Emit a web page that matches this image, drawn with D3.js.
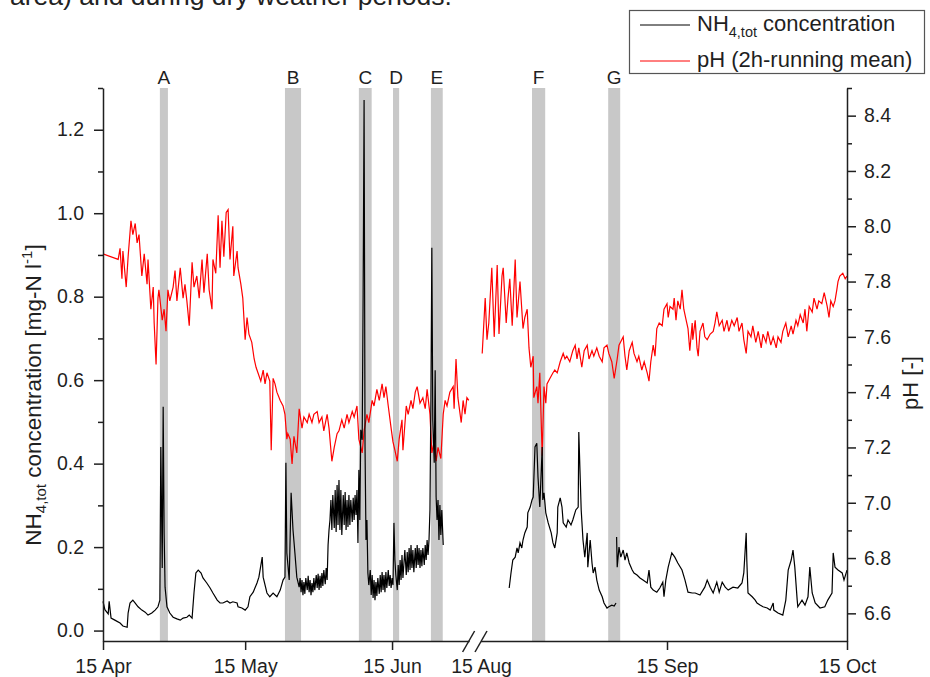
<!DOCTYPE html>
<html><head><meta charset="utf-8">
<script src="https://cdn.jsdelivr.net/npm/d3@7"></script>
<style>
body{margin:0;background:#fff;}
svg{display:block;font-family:"Liberation Sans",Arial,sans-serif;}
</style></head><body>
<svg id="c" width="930" height="677"></svg>
<script>
// ---- data (day = days after 15 April) ----
const xTickDays = [0, 30, 61, 122, 153, 183];
const xTickLabels = ["15 Apr", "15 May", "15 Jun", "15 Aug", "15 Sep", "15 Oct"];
const nhTicks = [0, 0.2, 0.4, 0.6, 0.8, 1.0, 1.2];
const nhMinor = [0.1, 0.3, 0.5, 0.7, 0.9, 1.1, 1.3];
const phTicks = [6.6, 6.8, 7.0, 7.2, 7.4, 7.6, 7.8, 8.0, 8.2, 8.4];
const phMinor = [6.7, 6.9, 7.1, 7.3, 7.5, 7.7, 7.9, 8.1, 8.3, 8.5];
const bandLabels = ["A", "B", "C", "D", "E", "F", "G"];
const bandStart = [12.0, 38.4, 54.0, 61.2, 69.2, 130.5, 143.2];
const bandEnd = [13.7, 41.8, 56.7, 62.5, 71.7, 132.7, 145.2];

const phSpring = [[0,7.90],[3.2,7.88],[3.6,7.92],[4.0,7.81],[4.2,7.91],[4.9,7.78],[5.3,7.89],[5.9,8.02],[6.3,7.97],[6.8,8.01],[7.2,7.94],[7.6,7.97],[8.2,7.82],[8.7,7.90],[9.3,7.79],[9.5,7.88],[10.1,7.70],[10.6,7.78],[10.8,7.65],[11.2,7.50],[11.6,7.74],[11.8,7.77],[12.5,7.66],[12.9,7.70],[13.3,7.62],[13.7,7.77],[14.1,7.73],[14.8,7.78],[15.2,7.84],[15.6,7.73],[16.3,7.85],[16.9,7.74],[17.3,7.79],[17.7,7.73],[18.2,7.64],[18.8,7.87],[19.2,7.78],[19.8,7.82],[20.3,7.74],[20.9,7.88],[21.3,7.76],[22.0,7.90],[22.4,7.77],[23.0,7.70],[23.2,7.88],[23.8,7.83],[24.3,8.04],[24.7,7.85],[25.1,8.02],[25.5,7.89],[26.0,8.05],[26.4,8.06],[26.8,7.88],[27.4,8.00],[27.6,7.82],[28.3,7.91],[28.5,7.85],[29.1,7.79],[29.5,7.74],[30.0,7.59],[30.4,7.67],[30.8,7.61],[31.4,7.58],[31.9,7.52],[32.3,7.49],[32.7,7.47],[33.3,7.44],[33.8,7.48],[34.2,7.43],[34.6,7.47],[35.2,7.44],[35.5,7.19],[35.9,7.45],[36.3,7.43],[36.7,7.40],[37.4,7.37],[38.0,7.35],[38.4,7.32],[38.8,7.23],[39.0,7.25],[39.5,7.23],[39.9,7.14],[40.3,7.24],[40.9,7.18],[41.4,7.34],[42.0,7.27],[42.4,7.31],[43.1,7.29],[43.5,7.32],[44.1,7.29],[44.5,7.32],[45.2,7.33],[45.6,7.29],[46.2,7.31],[46.6,7.26],[47.3,7.32],[47.7,7.27],[48.3,7.15],[48.8,7.20],[49.4,7.25],[49.8,7.26],[50.4,7.30],[50.9,7.27],[51.5,7.32],[51.9,7.29],[52.6,7.33],[53.0,7.31],[53.6,7.35],[54.0,7.23],[54.7,7.18],[55.1,7.26],[55.7,7.32],[56.1,7.29],[56.8,7.37],[57.2,7.35],[57.8,7.41],[58.3,7.37],[58.9,7.43],[59.3,7.38],[59.7,7.42],[60.2,7.35],[60.8,7.27],[61.2,7.22],[61.6,7.19],[62.1,7.15],[62.5,7.23],[63.1,7.30],[63.3,7.19],[64.0,7.35],[64.4,7.32],[65.0,7.37],[65.4,7.34],[65.9,7.40],[66.3,7.42],[66.9,7.36],[67.5,7.38],[68.0,7.34],[68.4,7.41],[69.0,7.32],[69.4,7.18],[69.9,7.22],[70.3,7.15],[70.7,7.20],[71.3,7.16],[71.8,7.32],[72.2,7.37],[72.6,7.35],[73.2,7.40],[73.9,7.42],[74.1,7.34],[74.5,7.52],[74.9,7.38],[75.6,7.29],[76.0,7.37],[76.4,7.32],[76.8,7.38],[77.2,7.37]];

const phSummer = [[122.2,7.54],[122.7,7.74],[123.0,7.59],[123.3,7.65],[123.8,7.85],[124.2,7.60],[124.7,7.86],[125.0,7.61],[125.5,7.82],[125.7,7.85],[126.2,7.65],[126.5,7.74],[126.8,7.81],[127.2,7.64],[127.7,7.88],[128.0,7.67],[128.5,7.80],[129.0,7.63],[129.3,7.67],[129.7,7.70],[130.0,7.56],[130.3,7.49],[130.7,7.53],[130.8,7.38],[131.3,7.42],[131.5,7.36],[131.8,7.47],[132.2,7.17],[132.5,7.42],[132.8,7.36],[133.0,7.43],[133.5,7.45],[134.0,7.47],[134.3,7.48],[134.7,7.47],[135.2,7.51],[135.7,7.54],[136.0,7.52],[136.3,7.53],[136.8,7.51],[137.3,7.55],[137.7,7.57],[138.0,7.52],[138.3,7.56],[138.8,7.49],[139.2,7.55],[139.7,7.57],[140.0,7.52],[140.5,7.55],[140.8,7.53],[141.3,7.56],[141.7,7.53],[142.2,7.51],[142.5,7.56],[143.0,7.57],[143.3,7.54],[143.8,7.51],[144.2,7.45],[144.7,7.52],[145.0,7.57],[145.7,7.60],[146.0,7.53],[146.3,7.48],[146.7,7.55],[147.2,7.58],[147.5,7.54],[148.0,7.51],[148.3,7.53],[148.8,7.48],[149.2,7.51],[149.7,7.47],[150.0,7.44],[150.3,7.51],[150.7,7.57],[151.0,7.53],[151.3,7.63],[151.7,7.65],[152.2,7.64],[152.5,7.70],[153.0,7.72],[153.2,7.67],[153.5,7.71],[154.0,7.70],[154.2,7.74],[154.5,7.66],[154.8,7.73],[155.2,7.70],[155.5,7.77],[155.8,7.70],[156.2,7.66],[156.5,7.63],[156.8,7.55],[157.2,7.65],[157.3,7.59],[157.7,7.66],[158.0,7.56],[158.2,7.53],[158.5,7.62],[159.0,7.65],[159.3,7.60],[159.7,7.59],[160.2,7.61],[160.7,7.62],[161.0,7.65],[161.3,7.69],[161.7,7.64],[162.2,7.66],[162.5,7.62],[163.0,7.66],[163.3,7.62],[163.8,7.66],[164.2,7.64],[164.7,7.67],[165.0,7.62],[165.5,7.65],[165.8,7.59],[166.2,7.54],[166.5,7.62],[167.0,7.60],[167.3,7.64],[167.8,7.58],[168.2,7.62],[168.7,7.56],[169.0,7.61],[169.5,7.58],[169.8,7.62],[170.3,7.57],[170.7,7.60],[171.2,7.56],[171.5,7.60],[172.0,7.58],[172.3,7.62],[172.8,7.65],[173.2,7.60],[173.7,7.64],[174.0,7.61],[174.5,7.66],[174.8,7.64],[175.2,7.68],[175.7,7.65],[176.0,7.70],[176.3,7.62],[176.7,7.71],[177.2,7.69],[177.5,7.74],[178.0,7.70],[178.3,7.73],[178.8,7.72],[179.2,7.76],[179.7,7.71],[180.0,7.67],[180.3,7.73],[180.7,7.71],[181.0,7.73],[181.3,7.77],[181.5,7.80],[181.8,7.82],[182.3,7.83],[182.7,7.81],[183.0,7.82]];

const nhSpring = [[0,0.07],[0.4,0.05],[1.1,0.04],[1.3,0.07],[1.7,0.03],[2.5,0.025],[3.6,0.018],[4.2,0.011],[5.1,0.008],[5.3,0.042],[5.7,0.066],[6.3,0.073],[6.8,0.066],[7.4,0.057],[8.2,0.049],[8.9,0.044],[9.5,0.037],[10.3,0.042],[11.0,0.049],[11.6,0.057],[12.0,0.073],[12.2,0.44],[12.5,0.15],[12.7,0.536],[12.9,0.234],[13.1,0.104],[13.5,0.057],[14.1,0.042],[14.8,0.032],[15.6,0.028],[16.3,0.025],[16.9,0.030],[17.7,0.032],[18.2,0.037],[18.8,0.030],[19.2,0.090],[19.6,0.138],[20.1,0.145],[20.7,0.138],[21.1,0.126],[21.9,0.114],[22.6,0.102],[23.2,0.090],[24.1,0.073],[24.7,0.066],[25.3,0.066],[26.2,0.071],[26.8,0.066],[27.4,0.069],[28.3,0.066],[28.5,0.057],[29.3,0.054],[30.0,0.049],[30.6,0.057],[31.0,0.081],[31.7,0.092],[32.5,0.114],[32.9,0.128],[33.6,0.176],[33.8,0.128],[34.6,0.090],[35.2,0.081],[35.9,0.090],[36.7,0.081],[37.4,0.097],[38.0,0.121],[38.4,0.128],[38.6,0.402],[38.8,0.186],[39.3,0.121],[39.7,0.330],[40.1,0.241],[40.5,0.186],[40.9,0.128],[41.4,0.104],[41.6,0.126],[41.8,0.092],[42.0,0.121],[42.2,0.085],[42.4,0.116],[42.6,0.088],[42.8,0.126],[43.1,0.097],[43.3,0.131],[43.5,0.092],[43.7,0.121],[43.9,0.085],[44.1,0.114],[44.3,0.092],[44.5,0.126],[44.7,0.097],[45.0,0.133],[45.2,0.102],[45.4,0.136],[45.6,0.097],[45.8,0.131],[46.0,0.102],[46.2,0.138],[46.4,0.107],[46.6,0.145],[46.9,0.111],[47.1,0.150],[47.3,0.121],[47.5,0.205],[47.7,0.241],[47.9,0.265],[48.1,0.313],[48.3,0.241],[48.5,0.325],[48.8,0.246],[49.0,0.337],[49.2,0.236],[49.4,0.349],[49.6,0.253],[49.8,0.361],[50.0,0.241],[50.2,0.337],[50.4,0.229],[50.7,0.325],[50.9,0.253],[51.1,0.332],[51.3,0.241],[51.5,0.313],[51.7,0.248],[51.9,0.325],[52.1,0.253],[52.3,0.313],[52.6,0.260],[52.8,0.318],[53.0,0.265],[53.2,0.325],[53.4,0.277],[53.6,0.337],[53.8,0.210],[54.0,0.385],[54.2,0.265],[54.4,0.481],[54.7,0.457],[54.9,0.809],[55.1,1.271],[55.3,0.440],[55.5,0.217],[55.7,0.265],[55.9,0.138],[56.1,0.109],[56.4,0.145],[56.6,0.085],[56.8,0.133],[57.0,0.078],[57.2,0.121],[57.4,0.073],[57.6,0.116],[57.8,0.083],[58.0,0.126],[58.3,0.088],[58.5,0.133],[58.7,0.092],[58.9,0.140],[59.1,0.097],[59.3,0.133],[59.5,0.092],[59.7,0.140],[59.9,0.102],[60.2,0.145],[60.4,0.107],[60.6,0.133],[60.8,0.102],[61.0,0.126],[61.2,0.109],[61.4,0.258],[61.6,0.169],[61.8,0.133],[62.1,0.097],[62.3,0.157],[62.5,0.109],[62.7,0.169],[62.9,0.121],[63.1,0.181],[63.3,0.126],[63.7,0.193],[64.0,0.133],[64.2,0.188],[64.4,0.140],[64.6,0.198],[64.8,0.145],[65.0,0.205],[65.2,0.150],[65.4,0.193],[65.6,0.140],[65.9,0.198],[66.1,0.150],[66.3,0.205],[66.5,0.157],[66.7,0.198],[66.9,0.150],[67.1,0.193],[67.3,0.154],[67.5,0.198],[67.8,0.157],[68.0,0.205],[68.2,0.169],[68.4,0.217],[68.6,0.181],[68.8,0.217],[69.0,0.289],[69.2,0.552],[69.4,0.917],[69.6,0.504],[69.9,0.402],[70.1,0.624],[70.3,0.320],[70.5,0.265],[70.7,0.313],[70.9,0.217],[71.1,0.301],[71.3,0.229],[71.5,0.289],[71.8,0.205]];

const nhSummer = [[126.7,0.102],[127.0,0.138],[127.3,0.169],[127.7,0.176],[128.0,0.198],[128.2,0.186],[128.5,0.210],[128.8,0.198],[129.0,0.217],[129.3,0.234],[129.7,0.248],[129.8,0.282],[130.2,0.296],[130.5,0.313],[130.7,0.320],[131.0,0.440],[131.3,0.449],[131.5,0.368],[131.8,0.296],[132.2,0.440],[132.3,0.313],[132.5,0.330],[132.8,0.282],[133.2,0.258],[133.7,0.234],[134.0,0.210],[134.3,0.198],[134.7,0.234],[134.8,0.296],[135.2,0.318],[135.5,0.296],[135.7,0.258],[136.2,0.248],[136.5,0.265],[137.0,0.253],[137.3,0.265],[137.8,0.289],[138.2,0.296],[138.3,0.476],[138.7,0.289],[138.8,0.265],[139.0,0.217],[139.3,0.176],[139.7,0.234],[139.8,0.152],[140.2,0.217],[140.5,0.162],[140.7,0.138],[141.0,0.152],[141.3,0.121],[141.7,0.097],[142.2,0.081],[142.5,0.066],[143.0,0.054],[143.3,0.057],[143.8,0.061],[144.2,0.059],[144.5,0.066],null,[144.6,0.224],[144.7,0.152],[145.0,0.200],[145.3,0.176],[145.7,0.193],[146.0,0.169],[146.3,0.186],[146.7,0.162],[147.2,0.145],[147.5,0.138],[148.0,0.133],[148.5,0.126],[149.0,0.121],[149.7,0.114],[150.0,0.145],[150.3,0.104],[150.7,0.097],[151.3,0.092],[151.8,0.102],[152.3,0.116],[152.5,0.081],[152.8,0.121],[153.2,0.152],[153.8,0.186],[154.3,0.176],[154.8,0.162],[155.5,0.145],[156.0,0.121],[156.5,0.092],[157.2,0.090],[157.7,0.090],[158.5,0.085],[159.3,0.104],[159.7,0.121],[160.2,0.104],[160.7,0.090],[161.3,0.116],[161.7,0.092],[162.2,0.116],[162.7,0.104],[163.2,0.097],[164.0,0.104],[164.8,0.102],[165.5,0.114],[165.8,0.138],[166.2,0.234],[166.3,0.169],[166.5,0.090],[167.2,0.081],[167.7,0.073],[168.0,0.066],[168.5,0.061],[169.0,0.057],[169.7,0.054],[170.2,0.049],[170.7,0.066],[170.8,0.049],[171.5,0.042],[172.3,0.037],[172.8,0.073],[173.2,0.145],[173.7,0.169],[174.0,0.193],[174.3,0.152],[174.7,0.073],[174.8,0.057],[175.5,0.073],[176.0,0.061],[176.5,0.081],[176.8,0.152],[177.2,0.090],[177.7,0.066],[178.5,0.054],[179.3,0.057],[179.8,0.073],[180.5,0.090],[180.7,0.186],[181.0,0.152],[181.5,0.145],[182.2,0.138],[182.5,0.121],[183.0,0.145]];

// ---- scales ----
const base = Date.UTC(2011, 3, 15);
const day = d => new Date(base + d * 864e5);
const x = d3.scaleUtc().domain([0, 78, 122, 183].map(day)).range([103, 472.6, 481, 847]);
const yL = d3.scaleLinear().domain([-0.025, 1.3]).range([641, 88]);
const yR = d3.scaleLinear().domain([6.5, 8.5]).range([641, 88]);

const svg = d3.select("#c");
const ink = "#1f1f1f";

// caption fragment at the top (cropped in the reference as well)
svg.append("text").attr("x", 10).attr("y", 5).attr("font-size", 26.5).attr("fill", "#222")
  .text("area) and during dry weather periods.");

// shaded events
const yTop = yL.range()[1], yBot = yL.range()[0];
svg.append("g").selectAll("rect").data(bandLabels).join("rect")
  .attr("x", (d, i) => x(day(bandStart[i])))
  .attr("width", (d, i) => x(day(bandEnd[i])) - x(day(bandStart[i])))
  .attr("y", yTop).attr("height", yBot - yTop).attr("fill", "#c8c8c8");
svg.append("g").selectAll("text").data(bandLabels).join("text")
  .attr("x", (d, i) => (x(day(bandStart[i])) + x(day(bandEnd[i]))) / 2)
  .attr("y", 84).attr("text-anchor", "middle").attr("font-size", 19).attr("fill", ink)
  .text(d => d);

// lines
const lnR = d3.line().defined(d => d !== null).x(d => x(day(d[0]))).y(d => yR(d[1]));
const lnL = d3.line().defined(d => d !== null).x(d => x(day(d[0]))).y(d => yL(d[1]));
[phSpring, phSummer].forEach(s => svg.append("path").datum(s).attr("d", lnR)
  .attr("fill", "none").attr("stroke", "#ff0000").attr("stroke-width", 1.2));
[nhSpring, nhSummer].forEach(s => svg.append("path").datum(s).attr("d", lnL)
  .attr("fill", "none").attr("stroke", "#000").attr("stroke-width", 1.2));

// axes
function styleAxis(g, fs) {
  g.selectAll("path,line").attr("stroke", ink).attr("stroke-width", 1.5);
  g.selectAll("text").attr("font-size", fs).attr("fill", ink).attr("font-family", '"Liberation Sans",Arial,sans-serif');
}
const gx = svg.append("g").attr("transform", `translate(0,${yBot})`)
  .call(d3.axisBottom(x).tickValues(xTickDays.map(day)).tickFormat((d, i) => xTickLabels[i]).tickSize(9).tickSizeOuter(0));
styleAxis(gx, 19.5);
gx.selectAll(".tick text").attr("y", 18);
gx.selectAll(".tick").filter((d, i) => i === 3).select("line").remove();

const gl = svg.append("g").attr("transform", "translate(103,0)")
  .call(d3.axisLeft(yL).tickValues(nhTicks).tickFormat(d3.format(".1f")).tickSize(9).tickSizeOuter(0));
styleAxis(gl, 19.5);
gl.selectAll(".tick text").attr("x", -19);
const glm = svg.append("g").attr("transform", "translate(103,0)")
  .call(d3.axisLeft(yL).tickValues(nhMinor).tickFormat("").tickSize(5).tickSizeOuter(0));
glm.select(".domain").remove(); styleAxis(glm, 19);

const gr = svg.append("g").attr("transform", "translate(847,0)")
  .call(d3.axisRight(yR).tickValues(phTicks).tickFormat(d3.format(".1f")).tickSize(9).tickSizeOuter(0));
styleAxis(gr, 19.5);
gr.selectAll(".tick text").attr("x", 17);
const grm = svg.append("g").attr("transform", "translate(847,0)")
  .call(d3.axisRight(yR).tickValues(phMinor).tickFormat("").tickSize(5).tickSizeOuter(0));
grm.select(".domain").remove(); styleAxis(grm, 19);

// axis break
const xb1 = x(day(78)) - 4, xb2 = x(day(122));
svg.append("rect").attr("x", xb1 + 1).attr("y", yBot - 3).attr("width", xb2 - xb1 - 1).attr("height", 6).attr("fill", "#fff");
[xb1, xb2].forEach(xx => svg.append("line").attr("x1", xx - 6).attr("y1", yBot + 11).attr("x2", xx + 6).attr("y2", yBot - 10)
  .attr("stroke", ink).attr("stroke-width", 1.5));

// axis titles
const tl = svg.append("text").attr("transform", "translate(41,395) rotate(-90)").attr("text-anchor", "middle")
  .attr("font-size", 22.5).attr("fill", ink);
tl.append("tspan").text("NH");
tl.append("tspan").attr("font-size", 15).attr("dy", 5).text("4,tot");
tl.append("tspan").attr("dy", -5).text(" concentration [mg-N l");
tl.append("tspan").attr("font-size", 15).attr("dy", -9).text("-1");
tl.append("tspan").attr("dy", 9).text("]");
svg.append("text").attr("transform", "translate(918,383) rotate(-90)").attr("text-anchor", "middle")
  .attr("font-size", 22).attr("fill", ink).text("pH [-]");

// legend
const lg = svg.append("g");
lg.append("rect").attr("x", 629.5).attr("y", 10.5).attr("width", 295).attr("height", 63)
  .attr("fill", "#fff").attr("stroke", "#555").attr("stroke-width", 1.2);
const legItems = [{c: "#000", y: 25}, {c: "#ff0000", y: 61}];
legItems.forEach(it => lg.append("line").attr("x1", 640).attr("x2", 690).attr("y1", it.y).attr("y2", it.y)
  .attr("stroke", it.c).attr("stroke-width", 1));
const t1 = lg.append("text").attr("x", 697).attr("y", 31).attr("font-size", 22).attr("fill", ink);
t1.append("tspan").text("NH");
t1.append("tspan").attr("font-size", 14.5).attr("dy", 6).text("4,tot");
t1.append("tspan").attr("dy", -6).text(" concentration");
lg.append("text").attr("x", 697).attr("y", 67).attr("font-size", 22).attr("fill", ink).text("pH (2h-running mean)");
</script>
</body></html>
